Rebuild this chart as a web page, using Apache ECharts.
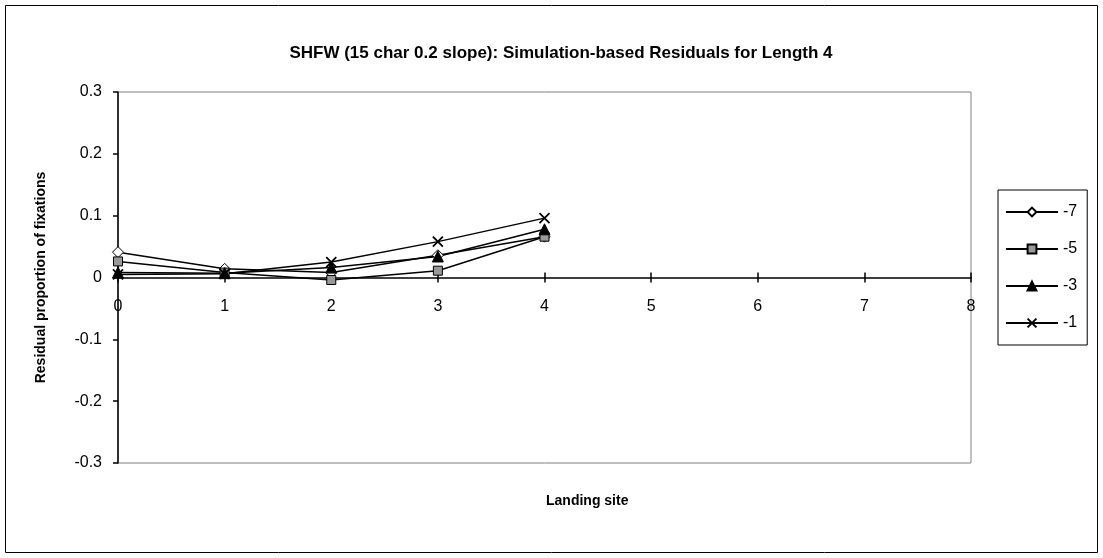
<!DOCTYPE html>
<html><head><meta charset="utf-8">
<script src="https://cdn.jsdelivr.net/npm/echarts@6/dist/echarts.min.js"></script>
<style>html,body{margin:0;padding:0;background:#fff}#c{width:1103px;height:558px}</style>
</head><body><div id="c"></div>
<script>
const landingSites = [0, 1, 2, 3, 4];
const seriesNames = ['-7', '-5', '-3', '-1'];
const s7 = [0.041, 0.014, 0.008, 0.036, 0.066];
const s5 = [0.026, 0.008, -0.004, 0.011, 0.066];
const s3 = [0.008, 0.007, 0.016, 0.034, 0.078];
const s1 = [0.005, 0.006, 0.025, 0.058, 0.096];

const FONT = 'Liberation Sans, Arial, sans-serif';
const pair = arr => landingSites.map((x, i) => [x, arr[i]]);
const cross = 'path://M0,0L10,10M10,0L0,10';
const GRID_TOP = 92, GRID_BOTTOM = 95, H = 558;
const plotH = H - GRID_TOP - GRID_BOTTOM;
const zeroOffset = -plotH / 2; // lift x axis from bottom edge to y = 0 (axis range is symmetric)
function mk(name, data, symbol, size, fill, bw) {
  return {
    name, type: 'line', data: pair(data), xAxisIndex: 0,
    symbol, symbolSize: size,
    lineStyle: { color: '#000', width: 1.5 },
    itemStyle: { color: fill, borderColor: '#000', borderWidth: bw },
    emphasis: { disabled: true }, animation: false
  };
}
const chart = echarts.init(document.getElementById('c'), null, { renderer: 'canvas' });
chart.setOption({
  backgroundColor: '#fff',
  animation: false,
  title: {
    text: 'SHFW (15 char 0.2 slope): Simulation-based Residuals for Length 4',
    left: 556, top: 40, textAlign: 'center',
    textStyle: { fontFamily: FONT, fontSize: 17, fontWeight: 'bold', color: '#000' }
  },
  graphic: [
    { type: 'rect', shape: { x: 5.5, y: 5.5, width: 1092, height: 547 }, style: { fill: 'none', stroke: '#000', lineWidth: 1 }, silent: true },
    { type: 'text', left: 546, top: 494, style: { text: 'Landing site', font: 'bold 14px ' + FONT, fill: '#000', textAlign: 'center' } }
  ],
  grid: { left: 118, right: 132, top: GRID_TOP, bottom: GRID_BOTTOM, show: true, borderColor: '#808080', borderWidth: 1 },
  legend: {
    orient: 'vertical', left: 998, top: 190,
    data: seriesNames,
    itemWidth: 52, itemHeight: 11, itemGap: 21,
    borderColor: '#000', borderWidth: 1, padding: [14, 10, 14, 7],
    textStyle: { fontFamily: FONT, fontSize: 16, color: '#000' }
  },
  xAxis: [{
    type: 'value', min: 0, max: 8, interval: 1, position: 'bottom', offset: zeroOffset,
    axisLine: { onZero: false, lineStyle: { color: '#000', width: 1.5 } },
    axisTick: { show: true, length: 5, lineStyle: { color: '#000', width: 1.5 } },
    axisLabel: { fontFamily: FONT, fontSize: 16, color: '#000', margin: 21 },
    splitLine: { show: false }
  }, {
    type: 'value', min: 0, max: 8, interval: 1, position: 'bottom', offset: zeroOffset,
    axisLine: { show: false, onZero: false },
    axisTick: { show: true, inside: true, length: 5, lineStyle: { color: '#000', width: 1.5 } },
    axisLabel: { show: false },
    splitLine: { show: false }
  }],
  yAxis: {
    type: 'value', min: -0.3, max: 0.3, interval: 0.1,
    name: 'Residual proportion of fixations', nameLocation: 'middle', nameGap: 70,
    nameTextStyle: { fontFamily: FONT, fontSize: 14, fontWeight: 'bold', color: '#000' },
    axisLine: { show: true, onZero: false, lineStyle: { color: '#000', width: 1.5 } },
    axisTick: { show: true, length: 5, lineStyle: { color: '#000', width: 1.5 } },
    axisLabel: { fontFamily: FONT, fontSize: 16, color: '#000', margin: 16,
      formatter: v => { const r = Math.round(v * 10) / 10; return r === 0 ? '0' : r.toFixed(1); } },
    splitLine: { show: false }
  },
  series: [
    mk('-7', s7, 'diamond', 11, '#fff', 1),
    mk('-5', s5, 'rect', 9, '#999', 1),
    mk('-3', s3, 'triangle', 11, '#000', 1),
    mk('-1', s1, cross, 10, 'transparent', 1.8)
  ]
});
</script></body></html>
